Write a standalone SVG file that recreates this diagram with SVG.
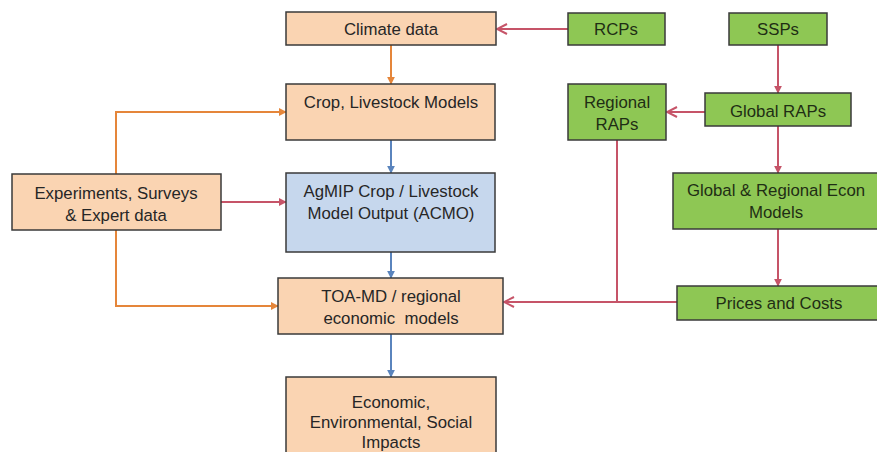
<svg xmlns="http://www.w3.org/2000/svg" width="877" height="452" viewBox="0 0 877 452">
<defs>
<style>
.box{stroke:#3a3a3a;stroke-width:1.5}
.peach{fill:#fad4b2}
.blue{fill:#c6d7ed}
.green{fill:#8ec754}
text{font-family:"Liberation Sans",Arial,sans-serif;font-size:16.8px;fill:#262626;text-anchor:middle}
.g text{fill:#1f2e14}
.c{fill:none;stroke-width:2}
.or{stroke:#e5863a}
.bl{stroke:#5a84bd}
.rd{stroke:#c65468}
</style>
<marker id="aor" viewBox="0 0 10 10" refX="9" refY="5" markerWidth="4" markerHeight="4" orient="auto" markerUnits="strokeWidth"><path d="M0,0 L10,5 L0,10 z" fill="#e5863a"/></marker>
<marker id="abl" viewBox="0 0 10 10" refX="9" refY="5" markerWidth="4" markerHeight="4" orient="auto" markerUnits="strokeWidth"><path d="M0,0 L10,5 L0,10 z" fill="#5a84bd"/></marker>
<marker id="ard" viewBox="0 0 10 10" refX="9" refY="5" markerWidth="4" markerHeight="4" orient="auto" markerUnits="strokeWidth"><path d="M0,0 L10,5 L0,10 z" fill="#c65468"/></marker>
<marker id="chev" viewBox="0 0 12 12" refX="11" refY="6" markerWidth="6" markerHeight="6" orient="auto" markerUnits="strokeWidth"><path d="M1,1 L11,6 L1,11" fill="none" stroke="#c65468" stroke-width="2"/></marker>
</defs>

<g id="connectors">
<line class="c rd" x1="568" y1="29" x2="497" y2="29" marker-end="url(#chev)"/>
<line class="c or" x1="391" y1="45" x2="391" y2="84" marker-end="url(#aor)"/>
<line class="c bl" x1="391" y1="140" x2="391" y2="173" marker-end="url(#abl)"/>
<line class="c bl" x1="391" y1="252" x2="391" y2="278" marker-end="url(#abl)"/>
<line class="c bl" x1="391" y1="334" x2="391" y2="377" marker-end="url(#abl)"/>
<polyline class="c or" points="116,174 116,112 286,112" marker-end="url(#aor)"/>
<line class="c rd" x1="221" y1="202" x2="286" y2="202" marker-end="url(#ard)"/>
<polyline class="c or" points="116,230 116,306 278,306" marker-end="url(#aor)"/>
<line class="c rd" x1="778" y1="45" x2="778" y2="93" marker-end="url(#ard)"/>
<line class="c rd" x1="705" y1="112" x2="667" y2="112" marker-end="url(#chev)"/>
<line class="c rd" x1="778" y1="126" x2="778" y2="173" marker-end="url(#ard)"/>
<line class="c rd" x1="778" y1="229" x2="778" y2="286" marker-end="url(#ard)"/>
<line class="c rd" x1="677" y1="302" x2="504" y2="302" marker-end="url(#chev)"/>
<line class="c rd" x1="617" y1="140" x2="617" y2="302"/>
</g>

<g id="climate"><rect class="box peach" x="286" y="12" width="210" height="33"/><text x="391" y="35">Climate data</text></g>
<g id="crop"><rect class="box peach" x="286" y="84" width="209" height="56"/><text x="391" y="108">Crop, Livestock Models</text></g>
<g id="acmo"><rect class="box blue" x="286" y="173" width="209" height="79"/><text x="391" y="197">AgMIP Crop / Livestock</text><text x="391" y="219">Model Output (ACMO)</text></g>
<g id="experiments"><rect class="box peach" x="12" y="174" width="209" height="56"/><text x="116" y="199">Experiments, Surveys</text><text x="116" y="221">&amp; Expert data</text></g>
<g id="toamd"><rect class="box peach" x="278" y="278" width="225" height="56"/><text x="391" y="302">TOA-MD / regional</text><text x="391" y="324" xml:space="preserve">economic  models</text></g>
<g id="impacts"><rect class="box peach" x="286" y="377" width="210" height="80"/><text x="391" y="408">Economic,</text><text x="391" y="428">Environmental, Social</text><text x="391" y="448">Impacts</text></g>
<g id="rcps" class="g"><rect class="box green" x="568" y="13" width="97" height="32"/><text x="616" y="35">RCPs</text></g>
<g id="ssps" class="g"><rect class="box green" x="729" y="13" width="98" height="32"/><text x="778" y="35">SSPs</text></g>
<g id="regional-raps" class="g"><rect class="box green" x="568" y="84" width="98" height="56"/><text x="617" y="108">Regional</text><text x="617" y="130">RAPs</text></g>
<g id="global-raps" class="g"><rect class="box green" x="705" y="93" width="146" height="33"/><text x="778" y="117">Global RAPs</text></g>
<g id="global-econ" class="g"><rect class="box green" x="673" y="173" width="210" height="56"/><text x="776" y="196">Global &amp; Regional Econ</text><text x="776" y="218">Models</text></g>
<g id="prices" class="g"><rect class="box green" x="677" y="286" width="206" height="34"/><text x="779" y="309">Prices and Costs</text></g>
</svg>
